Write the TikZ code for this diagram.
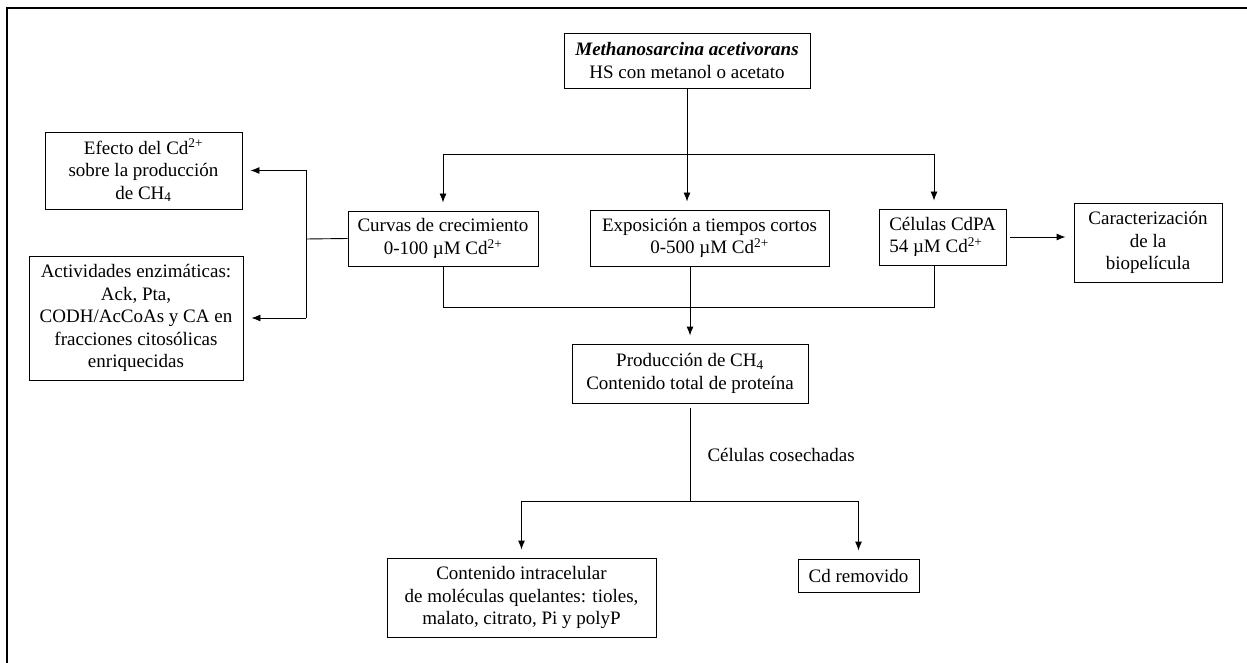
\documentclass[tikz,border=0pt]{standalone}
\usepackage{fontspec}
\setmainfont{Liberation Serif}
\usetikzlibrary{arrows.meta}
\begin{document}
\begin{tikzpicture}[x=1pt,y=-1pt,
caja/.style={draw,line width=0.9pt,align=center,inner sep=1pt,font=\fontsize{19}{22.5}\selectfont},
flecha/.style={line width=0.9pt,-{Latex[length=9pt,width=7pt]},shorten >=8pt},
linea/.style={line width=0.9pt}]
\useasboundingbox (0,0) rectangle (1247,663);
\draw[line width=1.6pt] (7,663) -- (7,8) -- (1247,8);
\node[caja,minimum width=246,minimum height=55] (mac) at (687,60.5) {\textbf{\textit{Methanosarcina acetivorans}}\\HS con metanol o acetato};
\node[caja,minimum width=190,minimum height=55] (curvas) at (443,238.5) {Curvas de crecimiento\\0-100 µM Cd\textsuperscript{2+}};
\node[caja,minimum width=239,minimum height=56] (expo) at (709.5,238) {Exposición a tiempos cortos\\0-500 µM Cd\textsuperscript{2+}};
\node[caja,align=left,minimum width=127,minimum height=56] (celulas) at (942.5,237) {Células CdPA\\54 µM Cd\textsuperscript{2+}};
\node[caja,minimum width=148,minimum height=79] (carac) at (1148,242.5) {Caracterización\\de la\\biopelícula};
\node[caja,minimum width=197,minimum height=77] (efecto) at (143.5,170.5) {Efecto del Cd\textsuperscript{2+}\\sobre la producción\\de CH\textsubscript{4}};
\node[caja,minimum width=214,minimum height=124] (activ) at (136,318) {Actividades enzimáticas:\\Ack, Pta,\\CODH/AcCoAs y CA en\\fracciones citosólicas\\enriquecidas};
\node[caja,minimum width=236,minimum height=59] (prod) at (690,373.5) {Producción de CH\textsubscript{4}\\Contenido total de proteína};
\node[caja,minimum width=269,minimum height=79] (cont) at (521.5,597.5) {Contenido intracelular\\de moléculas quelantes: tioles,\\malato, citrato, Pi y polyP};
\node[caja,minimum width=121,minimum height=33] (cdrem) at (858.5,575.5) {Cd removido};
\node[anchor=west,font=\fontsize{19}{22.5}\selectfont] (etiq) at (704,455) {Células cosechadas};
\coordinate (arriba) at (687,154);
\coordinate (ramad) at (934,154);
\coordinate (abajo) at (690,307);
\coordinate (izq) at (306,239);
\coordinate (cosecha) at (690,501);
\draw[linea] (mac.south) -- (arriba);
\draw[linea] (arriba -| curvas.north) -- (ramad);
\draw[flecha] (arriba -| curvas.north) -- (curvas.north);
\draw[flecha] (arriba) -- (arriba |- expo.north);
\draw[flecha] (ramad) -- (ramad |- celulas.north);
\draw[linea] (curvas.south) -- (curvas.south |- abajo) -- (ramad |- abajo) -- (ramad |- celulas.south);
\draw[flecha] (expo.south -| prod.north) -- (prod.north);
\draw[linea] (curvas.west) -- (izq);
\draw[linea] (izq |- efecto.east) -- (izq |- activ.east);
\draw[flecha] (izq |- efecto.east) -- (efecto.east);
\draw[flecha] (izq |- activ.east) -- (activ.east);
\draw[flecha,shorten <=4pt] (celulas.east) -- (carac.west |- celulas.east);
\draw[linea,shorten <=5pt] (prod.south) -- (cosecha);
\draw[linea] (cont.north |- cosecha) -- (cdrem.north |- cosecha);
\draw[flecha] (cont.north |- cosecha) -- (cont.north);
\draw[flecha] (cdrem.north |- cosecha) -- (cdrem.north);
\end{tikzpicture}
\end{document}
